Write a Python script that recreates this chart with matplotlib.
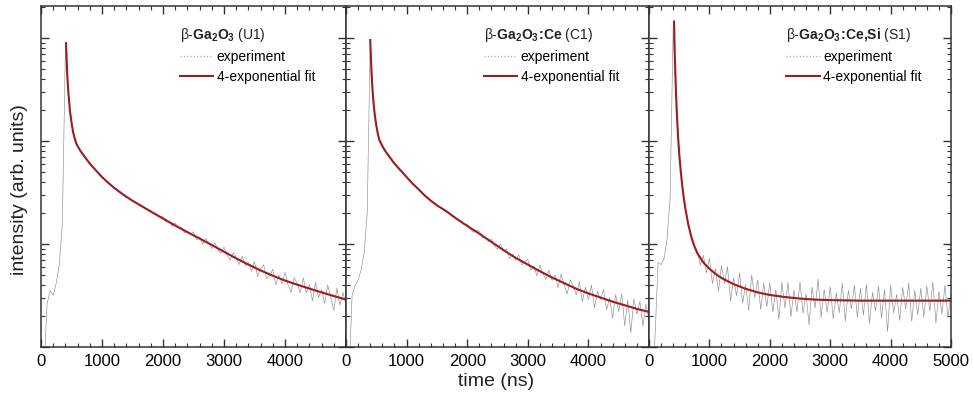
import numpy as np
import matplotlib
matplotlib.use('Agg')
import matplotlib.pyplot as plt
from matplotlib.lines import Line2D
from matplotlib.ticker import MultipleLocator, LogLocator, NullFormatter

plt.rcParams['font.family'] = ['Liberation Sans', 'DejaVu Sans']
plt.rcParams['mathtext.fontset'] = 'custom'
plt.rcParams['mathtext.rm'] = 'Liberation Sans'
plt.rcParams['mathtext.bf'] = 'Liberation Sans:bold'

# --- Data (log10 of intensity) ---
# experiment sampled every 50 ns from 0 to 5000 ns
exp_time = np.arange(0, 5001, 50)

exp_u1 = [-0.5, -0.2, 0.42, 0.55, 0.50, 0.62, 0.80, 1.20, 2.90, 2.44,
          2.18, 2.03, 1.95, 1.90, 1.86, 1.82, 1.78, 1.75, 1.715, 1.682,
          1.65, 1.624, 1.592, 1.572, 1.541, 1.526, 1.495, 1.483, 1.452, 1.445,
          1.415, 1.408, 1.38, 1.374, 1.345, 1.338, 1.322, 1.29, 1.29, 1.258,
          1.265, 1.213, 1.221, 1.17, 1.203, 1.157, 1.161, 1.11, 1.12, 1.09,
          1.12, 1.04, 1.065, 1.00, 1.052, 1.011, 0.955, 1.014, 0.943, 0.911,
          0.97, 0.889, 0.843, 0.916, 0.87, 0.80, 0.88, 0.785, 0.82, 0.735,
          0.83, 0.685, 0.76, 0.797, 0.665, 0.692, 0.755, 0.604, 0.698, 0.616,
          0.725, 0.605, 0.535, 0.675, 0.615, 0.525, 0.671, 0.526, 0.607, 0.448,
          0.629, 0.48, 0.56, 0.421, 0.602, 0.484, 0.355, 0.571, 0.407, 0.529,
          0.41]

exp_c1 = [-0.5, -0.3, 0.50, 0.60, 0.65, 0.75, 0.92, 1.30, 2.98, 2.40,
          2.15, 2.01, 1.95, 1.90, 1.86, 1.82, 1.78, 1.747, 1.715, 1.682,
          1.65, 1.617, 1.585, 1.557, 1.53, 1.50, 1.474, 1.44, 1.424, 1.392,
          1.382, 1.35, 1.343, 1.312, 1.305, 1.27, 1.262, 1.228, 1.225, 1.186,
          1.195, 1.146, 1.113, 1.134, 1.125, 1.06, 1.065, 1.025, 1.045, 0.98,
          0.95, 1.00, 0.93, 0.951, 0.857, 0.904, 0.845, 0.894, 0.797, 0.826,
          0.85, 0.744, 0.787, 0.691, 0.795, 0.71, 0.655, 0.745, 0.645, 0.701,
          0.578, 0.709, 0.60, 0.516, 0.652, 0.589, 0.505, 0.634, 0.442, 0.581,
          0.46, 0.60, 0.38, 0.54, 0.46, 0.56, 0.36, 0.48, 0.28, 0.511,
          0.342, 0.514, 0.205, 0.456, 0.138, 0.469, 0.32, 0.442, 0.205, 0.417,
          0.26]

exp_s1 = [-0.5, -0.3, 0.10, 0.82, 0.80, 0.86, 1.05, 1.45, 3.10, 2.42,
          1.88, 1.57, 1.35, 1.19, 1.07, 0.98, 0.93, 0.795, 0.89, 0.72,
          0.86, 0.615, 0.76, 0.54, 0.79, 0.615, 0.78, 0.445, 0.67, 0.499,
          0.718, 0.426, 0.605, 0.356, 0.698, 0.479, 0.65, 0.364, 0.618, 0.391,
          0.625, 0.34, 0.555, 0.27, 0.625, 0.38, 0.627, 0.294, 0.551, 0.34,
          0.63, 0.328, 0.516, 0.214, 0.582, 0.38, 0.659, 0.288, 0.557, 0.336,
          0.585, 0.274, 0.523, 0.332, 0.621, 0.25, 0.55, 0.37, 0.60, 0.29,
          0.57, 0.31, 0.61, 0.23, 0.53, 0.35, 0.59, 0.28, 0.56, 0.15,
          0.60, 0.33, 0.51, 0.26, 0.58, 0.37, 0.62, 0.25, 0.55, 0.31,
          0.57, 0.29, 0.59, 0.35, 0.63, 0.23, 0.54, 0.32, 0.60, 0.28,
          0.52]

# 4-exponential fit curves
fit_u1_t = [410, 420, 430, 440, 450, 475, 500, 525, 550, 575, 600, 650, 700,
            750, 800, 900, 1000, 1100, 1200, 1300, 1400, 1500, 1600, 1700, 1800,
            2000, 2200, 2400, 2600, 2800, 3000, 3200, 3400, 3600, 3800, 4000,
            4200, 4400, 4600, 4800, 5000]
fit_u1 = [2.95, 2.80, 2.65, 2.55, 2.46, 2.29, 2.18, 2.09, 2.03, 1.98, 1.95, 1.90, 1.86,
          1.82, 1.78, 1.714, 1.65, 1.595, 1.545, 1.50, 1.458, 1.42, 1.385, 1.35, 1.315,
          1.247, 1.179, 1.115, 1.053, 0.99, 0.925, 0.86, 0.80, 0.743, 0.692, 0.645,
          0.605, 0.567, 0.53, 0.495, 0.46]

fit_c1_t = [400, 410, 420, 430, 440, 450, 475, 500, 525, 550, 600, 650, 700,
            800, 900, 1000, 1100, 1200, 1300, 1400, 1500, 1650, 1800, 2000,
            2200, 2400, 2600, 2800, 3000, 3200, 3400, 3600, 3800, 4000, 4200,
            4400, 4600, 4800, 5000]
fit_c1 = [2.98, 2.82, 2.68, 2.57, 2.48, 2.40, 2.25, 2.15, 2.07, 2.01, 1.95, 1.90, 1.86,
          1.78, 1.715, 1.65, 1.585, 1.53, 1.47, 1.42, 1.375, 1.32, 1.255, 1.175,
          1.10, 1.02, 0.94, 0.865, 0.80, 0.735, 0.675, 0.62, 0.565, 0.52, 0.48,
          0.44, 0.405, 0.37, 0.34]

fit_s1_t = [415, 425, 435, 445, 460, 480, 500, 525, 550, 575, 600, 650, 700,
            750, 800, 900, 1000, 1100, 1200, 1400, 1600, 1800, 2000, 2250,
            2500, 2750, 3000, 3500, 4000, 5000]
fit_s1 = [3.16, 2.88, 2.68, 2.50, 2.28, 2.05, 1.88, 1.71, 1.57, 1.45, 1.35, 1.19, 1.07,
          0.98, 0.91, 0.82, 0.76, 0.71, 0.67, 0.61, 0.565, 0.53, 0.505, 0.485,
          0.47, 0.46, 0.455, 0.45, 0.45, 0.45]

titles = [r'β-$\mathbf{Ga_2O_3}$ (U1)',
          r'β-$\mathbf{Ga_2O_3\!:\!Ce}$ (C1)',
          r'β-$\mathbf{Ga_2O_3\!:\!Ce{,}Si}$ (S1)']
exp_sets = [exp_u1, exp_c1, exp_s1]
fit_sets = [(fit_u1_t, fit_u1), (fit_c1_t, fit_c1), (fit_s1_t, fit_s1)]

EXP_COLOR = '#8e8e8e'
FIT_COLOR = '#9e1b1e'

# --- Figure ---
W, H = 974, 404
fig = plt.figure(figsize=(W / 100, H / 100), dpi=100)
edges = [41, 346, 649, 951]
top_px, bot_px = 6, 347

for i in range(3):
    ax = fig.add_axes([edges[i] / W, 1 - bot_px / H,
                       (edges[i + 1] - edges[i]) / W, (bot_px - top_px) / H])
    ax.plot(exp_time, 10 ** np.array(exp_sets[i]), color=EXP_COLOR, lw=0.45,
            zorder=2)
    ft, fv = fit_sets[i]
    ax.plot(ft, 10 ** np.array(fv), color=FIT_COLOR, lw=1.5, zorder=3)

    ax.set_yscale('log')
    ax.set_xlim(0, 5000)
    ax.set_ylim(1, 10 ** 3.31)
    ax.yaxis.set_major_locator(LogLocator(base=10, numticks=10))
    ax.yaxis.set_minor_locator(LogLocator(base=10, subs=np.arange(2, 10), numticks=10))
    ax.yaxis.set_major_formatter(NullFormatter())
    ax.yaxis.set_minor_formatter(NullFormatter())

    ax.xaxis.set_minor_locator(MultipleLocator(200))
    if i < 2:
        ax.set_xticks([0, 1000, 2000, 3000, 4000])
    else:
        ax.set_xticks([0, 1000, 2000, 3000, 4000, 5000])

    ax.tick_params(which='both', direction='in', top=True, right=True,
                   color='#333333', labelsize=12, pad=5)
    ax.tick_params(which='major', length=6, width=1)
    ax.tick_params(which='minor', length=3, width=0.8)
    for s in ax.spines.values():
        s.set_color('#333333')
        s.set_linewidth(1.1)

    handles = [Line2D([], [], color='#b0b0b0', lw=0.9, ls=':'),
               Line2D([], [], color=FIT_COLOR, lw=1.5)]
    leg = ax.legend(handles, ['experiment', '4-exponential fit'],
                    loc='upper left', bbox_to_anchor=(0.455, 0.94),
                    frameon=False, fontsize=10, title=titles[i],
                    title_fontsize=10, alignment='left', handlelength=2.4,
                    handletextpad=0.25, labelspacing=0.42, borderpad=0,
                    borderaxespad=0)
    leg.get_title().set_color('#222222')

fig.text(20 / W, 1 - 190 / H, 'intensity (arb. units)', rotation=90,
         ha='center', va='center', fontsize=14, color='#222222')
fig.text(496 / W, 1 - 382 / H, 'time (ns)', ha='center', va='center',
         fontsize=14, color='#222222')

fig.savefig('out.png', dpi=100)
